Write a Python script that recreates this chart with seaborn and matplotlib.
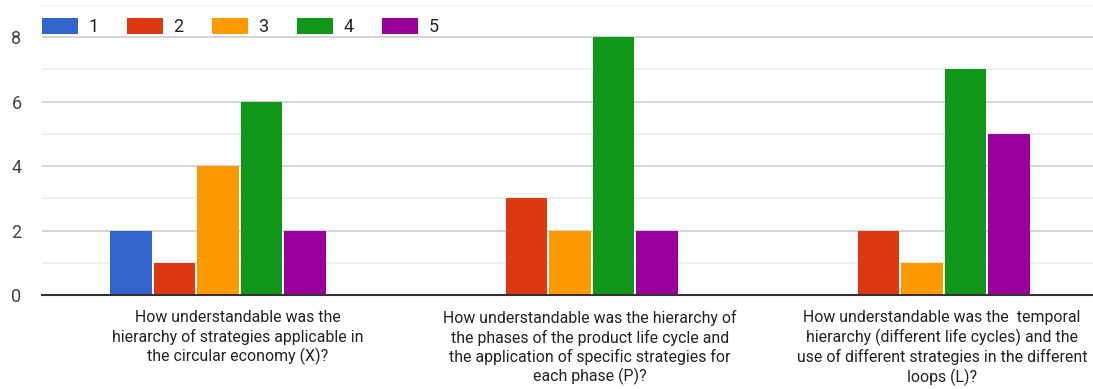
import matplotlib
matplotlib.use("Agg")
import matplotlib.pyplot as plt
import matplotlib.transforms as mtransforms
import seaborn as sns
import pandas as pd
from matplotlib.ticker import MultipleLocator

questions = [
    "How understandable was the\nhierarchy of strategies applicable in\nthe circular economy (X)?",
    "How understandable was the hierarchy of\nthe phases of the product life cycle and\nthe application of specific strategies for\neach phase (P)?",
    "How understandable was the  temporal\nhierarchy (different life cycles) and the\nuse of different strategies in the different\nloops (L)?",
]
ratings = ["1", "2", "3", "4", "5"]
counts_1 = [2, 0, 0]
counts_2 = [1, 3, 2]
counts_3 = [4, 2, 1]
counts_4 = [6, 8, 7]
counts_5 = [2, 2, 5]
colors = ["#3366cc", "#dc3912", "#ff9900", "#109618", "#990099"]

series = [counts_1, counts_2, counts_3, counts_4, counts_5]
rows = []
for rating, vals in zip(ratings, series):
    for q, v in zip(questions, vals):
        rows.append({"question": q, "rating": rating, "count": v})
df = pd.DataFrame(rows)

sns.set_theme(style="white")
plt.rcParams["font.family"] = ["Roboto", "DejaVu Sans"]

fig = plt.figure(figsize=(10.93, 3.89), dpi=100)
ax = fig.add_axes([0.0384, 0.2416, 0.9662, 0.746])

sns.barplot(data=df, x="question", y="count", hue="rating", hue_order=ratings,
            palette=colors, width=0.618, gap=0.05, linewidth=0, ax=ax,
            errorbar=None, saturation=1)

ax.set_ylim(0, 9)
ax.set_xlim(-0.5, 2.5)
ax.yaxis.set_major_locator(MultipleLocator(2))
ax.yaxis.set_minor_locator(MultipleLocator(1))
ax.grid(which="major", axis="y", color="#cccccc", linewidth=1.2)
ax.grid(which="minor", axis="y", color="#ebebeb", linewidth=1.2)
ax.set_axisbelow(True)
ax.set_yticks([0, 2, 4, 6, 8])
ax.set_ylabel("")
ax.set_xlabel("")

for side in ["top", "right", "left"]:
    ax.spines[side].set_visible(False)
ax.spines["bottom"].set_color("#333333")
ax.spines["bottom"].set_linewidth(1.5)

ax.tick_params(axis="y", which="both", length=0, pad=22, labelsize=13, labelcolor="#444444")
ax.tick_params(axis="x", length=0, pad=11, labelsize=11.4, labelcolor="#222222")
for lab in ax.get_yticklabels():
    lab.set_horizontalalignment("left")
# category labels sit a little to the right of their bar groups
label_shift = mtransforms.ScaledTranslation(20 / 100, 0, fig.dpi_scale_trans)
for lab in ax.get_xticklabels():
    lab.set_horizontalalignment("center")
    lab.set_linespacing(1.25)
    lab.set_transform(lab.get_transform() + label_shift)

handles, labels = ax.get_legend_handles_labels()
ax.legend(handles, labels, loc="center left", bbox_to_anchor=(0.0, 0.922),
          ncol=5, frameon=False, fontsize=13, handlelength=2.0, handleheight=0.95,
          handletextpad=0.55, columnspacing=1.6, borderaxespad=0, borderpad=0,
          labelcolor="#222222")

fig.savefig("out.png", dpi=100)
